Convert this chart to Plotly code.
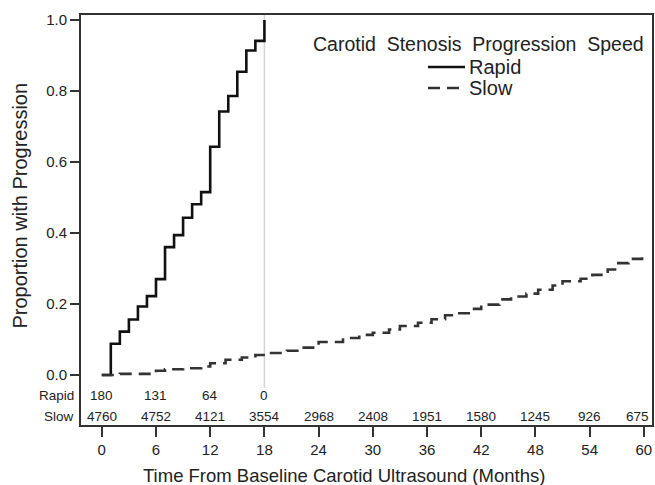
import plotly.graph_objects as go

# Rapid progression group (step curve)
rapid_t = [0, 1, 2, 3, 4, 5, 6, 7, 8, 9, 10, 11, 12, 13, 14, 15, 16, 17, 18]
rapid_p = [0.0, 0.088, 0.122, 0.156, 0.193, 0.222, 0.270, 0.360, 0.394, 0.443,
           0.481, 0.515, 0.643, 0.742, 0.786, 0.854, 0.914, 0.941, 1.0]

# Slow progression group (step curve)
slow_t = [0, 2, 5.5, 6, 7, 9, 11, 12, 13.7, 15.5, 17, 18.5, 20.5, 22, 24, 26.7,
          28.5, 30, 31.8, 33, 35, 36.5, 38, 39.3, 41, 42, 44, 45.3, 47, 48.3,
          49.9, 51, 53, 54.3, 56, 57, 58.3, 59.8, 60]
slow_p = [0.0, 0.003, 0.006, 0.012, 0.016, 0.019, 0.024, 0.033, 0.043, 0.049,
          0.056, 0.062, 0.068, 0.077, 0.093, 0.104, 0.113, 0.119, 0.128, 0.138,
          0.147, 0.157, 0.168, 0.174, 0.186, 0.198, 0.213, 0.221, 0.229, 0.240,
          0.252, 0.264, 0.271, 0.282, 0.297, 0.315, 0.327, 0.340, 0.344]

# Number at risk table
risk_rapid_t = [0, 6, 12, 18]
risk_rapid_n = ["180", "131", "64", "0"]
risk_slow_t = [0, 6, 12, 18, 24, 30, 36, 42, 48, 54, 60]
risk_slow_n = ["4760", "4752", "4121", "3554", "2968", "2408", "1951", "1580",
               "1245", "926", "675"]

x_ticks = [0, 6, 12, 18, 24, 30, 36, 42, 48, 54, 60]
y_ticks = [0.0, 0.2, 0.4, 0.6, 0.8, 1.0]

FONT = "Liberation Sans, Arial, sans-serif"
TXT = "#222222"
RAPID_COL = "#111111"
SLOW_COL = "#333333"
SLOW_DASH = "12px,7px"

fig = go.Figure()
fig.add_trace(go.Scatter(x=rapid_t, y=rapid_p, mode="lines", name="Rapid",
                         line=dict(shape="hv", color=RAPID_COL, width=2.6)))
fig.add_trace(go.Scatter(x=slow_t, y=slow_p, mode="lines", name="Slow",
                         line=dict(shape="hv", color=SLOW_COL, width=2.6,
                                   dash=SLOW_DASH)))

# reference line at 18 months
fig.add_shape(type="line", xref="x", yref="y", x0=18, x1=18, y0=-0.037, y1=1.014,
              line=dict(color="#d4d4d4", width=1.5), layer="below")

ROW_RAPID = -0.059
ROW_SLOW = -0.118
for t, n in zip(risk_rapid_t, risk_rapid_n):
    fig.add_annotation(x=t, y=ROW_RAPID, xref="x", yref="y", text=n, showarrow=False,
                       font=dict(family=FONT, size=13.5, color=TXT))
for t, n in zip(risk_slow_t, risk_slow_n):
    fig.add_annotation(x=t, y=ROW_SLOW, xref="x", yref="y", text=n, showarrow=False,
                       xshift=-6 if t == 60 else 0,
                       font=dict(family=FONT, size=13.5, color=TXT))
for lab, yy in (("Rapid", ROW_RAPID), ("Slow", ROW_SLOW)):
    fig.add_annotation(x=0, y=yy, xref="paper", yref="y", text=lab, showarrow=False,
                       xanchor="right", xshift=-5,
                       font=dict(family=FONT, size=13.5, color=TXT))

# legend (drawn manually)
fig.add_annotation(x=0.6965, y=0.929, xref="paper", yref="paper",
                   text="Carotid  Stenosis  Progression  Speed", showarrow=False,
                   xanchor="center", yanchor="middle",
                   font=dict(family=FONT, size=19.5, color=TXT))
for name, yy, col, dash in (("Rapid", 0.873, RAPID_COL, "solid"),
                            ("Slow", 0.822, SLOW_COL, SLOW_DASH)):
    fig.add_shape(type="line", xref="paper", yref="paper", x0=0.6077, x1=0.6725,
                  y0=yy, y1=yy, line=dict(color=col, width=2.6, dash=dash))
    fig.add_annotation(x=0.676, y=yy, xref="paper", yref="paper", text=name,
                       showarrow=False, xanchor="left", yanchor="middle",
                       font=dict(family=FONT, size=20, color=TXT))

# axis titles
fig.add_annotation(x=0.46, y=-0.123, xref="paper", yref="paper",
                   text="Time From Baseline Carotid Ultrasound (Months)",
                   showarrow=False, xanchor="center", yanchor="middle",
                   font=dict(family=FONT, size=18.5, color=TXT))
fig.add_annotation(x=-0.107, y=0.535, xref="paper", yref="paper",
                   text="Proportion with Progression", textangle=-90,
                   showarrow=False, xanchor="center", yanchor="middle",
                   font=dict(family=FONT, size=20, color=TXT))

fig.update_layout(
    width=655, height=485,
    margin=dict(l=81, r=3, t=15, b=60),
    paper_bgcolor="white", plot_bgcolor="white",
    font=dict(family=FONT, color=TXT),
    showlegend=False,
    xaxis=dict(range=[-2.3, 60.9], tickvals=x_ticks, ticks="outside", ticklen=10,
               tickwidth=1.5, tickcolor="#333333", showgrid=False, zeroline=False,
               showline=True, linecolor="#333333", linewidth=2, mirror=True,
               automargin=False,
               tickfont=dict(family=FONT, size=15, color=TXT)),
    yaxis=dict(range=[-0.141, 1.014], tickvals=y_ticks, tickformat=".1f",
               ticks="outside", ticklen=9, tickwidth=1.5, tickcolor="#333333",
               showgrid=False, zeroline=False, showline=True, linecolor="#333333",
               linewidth=2, mirror=True, automargin=False,
               tickfont=dict(family=FONT, size=15, color=TXT)),
)

fig.write_html("out.html", config={"displayModeBar": False},
               post_script="document.body.style.margin='0px';")
